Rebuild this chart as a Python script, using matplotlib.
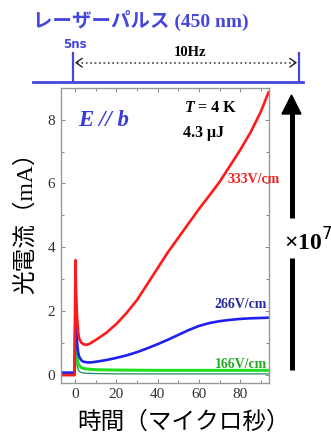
import matplotlib
matplotlib.use("Agg")
import matplotlib.pyplot as plt
from matplotlib.lines import Line2D
from matplotlib.patches import Polygon
from matplotlib.ticker import MultipleLocator

# --- data (time in microseconds, current in mA) ---
t_red = [-7, -0.2, 0.2, 0.5, 1, 1.5, 2, 3, 4, 5.5, 7, 10, 15, 20, 25, 30, 35, 40,
         45, 50, 55, 60, 65, 70, 75, 80, 85, 90, 93.7]
i_red = [0.0, 0.0, 3.6, 2.6, 1.8, 1.35, 1.15, 1.02, 0.97, 0.95, 0.98, 1.1, 1.32,
         1.6, 1.95, 2.35, 2.85, 3.35, 3.85, 4.3, 4.75, 5.2, 5.62, 6.05, 6.55,
         7.05, 7.6, 8.25, 8.85]

t_blue = [-7, -0.2, 0.2, 0.6, 1, 1.5, 2, 3, 4, 6, 8, 10, 15, 20, 25, 30, 35, 40,
          45, 50, 55, 60, 65, 70, 75, 80, 85, 90, 93.7]
i_blue = [0.08, 0.08, 2.0, 1.4, 1.0, 0.72, 0.58, 0.47, 0.42, 0.40, 0.40, 0.42,
          0.47, 0.54, 0.62, 0.72, 0.84, 0.97, 1.11, 1.26, 1.41, 1.54, 1.63, 1.69,
          1.73, 1.76, 1.78, 1.79, 1.80]

t_green = [-7, -0.2, 0.2, 0.6, 1, 1.5, 2, 3, 4, 6, 10, 20, 40, 60, 80, 93.7]
i_green = [0.05, 0.05, 2.0, 1.0, 0.55, 0.38, 0.30, 0.24, 0.21, 0.19, 0.17, 0.16,
           0.15, 0.15, 0.15, 0.15]

t_teal = [-7, -0.2, 0.2, 0.6, 1, 1.5, 2, 3, 5, 10, 20, 40, 60, 80, 93.7]
i_teal = [0.03, 0.03, 1.4, 0.6, 0.3, 0.18, 0.12, 0.08, 0.06, 0.05, 0.04, 0.04,
          0.04, 0.04, 0.04]

x_ticks = [0, 20, 40, 60, 80]
y_ticks = [0, 2, 4, 6, 8]

W, H = 331, 436
SERIF = ['Liberation Serif', 'Noto Sans CJK JP']
CJK = ['Noto Sans CJK JP', 'DejaVu Sans']


def fx(x):
    return x / W


def fy(y):
    return 1 - y / H


fig = plt.figure(figsize=(W / 100, H / 100), dpi=100)
ax = fig.add_axes([fx(61), fy(382.5), fx(268.5) - fx(61), fy(88.3) - fy(382.5)])

ax.plot(t_teal, i_teal, color='#1a8a6a', lw=0.9)
ax.plot(t_green, i_green, color='#22e022', lw=2.2)
ax.plot(t_blue, i_blue, color='#2020f0', lw=1.9)
ax.plot(t_red, i_red, color='#ff1a1a', lw=1.9)

ax.set_xlim(-6.8, 93.7)
ax.set_ylim(-0.23, 8.98)
ax.set_xticks(x_ticks)
ax.set_yticks(y_ticks)
ax.xaxis.set_minor_locator(MultipleLocator(10))
ax.yaxis.set_minor_locator(MultipleLocator(1))
ax.tick_params(which='both', direction='in', top=True, right=True,
               colors='#888888', labelcolor='#333333', width=0.7)
ax.tick_params(which='major', length=3, pad=4)
ax.tick_params(which='minor', length=2)
for lab in ax.get_xticklabels() + ax.get_yticklabels():
    lab.set_family(SERIF)
    lab.set_fontsize(11)
for s in ax.spines.values():
    s.set_color('#999999')
    s.set_linewidth(1.0)

# axis titles placed to match the reference
fig.text(fx(184), fy(422), '時間（マイクロ秒）', family=CJK, fontsize=17,
         ha='center', va='center')
fig.text(fx(26), fy(217), '光電流（mA）', family=SERIF, fontsize=17,
         rotation=90, ha='center', va='center')

# annotations inside the axes
fig.text(fx(78), fy(120), 'E // b', family=SERIF, fontsize=16.5, weight='bold',
         style='italic', color='#3a3ad8', va='center')
fig.text(fx(185), fy(108), 'T', family=SERIF, fontsize=11.5, weight='bold',
         style='italic', va='center')
fig.text(fx(194), fy(108), ' = 4 K', family=SERIF, fontsize=11.5, weight='bold',
         va='center')
fig.text(fx(183), fy(133), '4.3 μJ', family=SERIF, fontsize=11.5, weight='bold',
         va='center')
fig.text(fx(280), fy(179), '333V/cm', family=SERIF, fontsize=10, weight='bold',
         color='#ee2222', ha='right', va='center')
fig.text(fx(267), fy(304), '266V/cm', family=SERIF, fontsize=10, weight='bold',
         color='#2a2aa0', ha='right', va='center')
fig.text(fx(267), fy(364), '166V/cm', family=SERIF, fontsize=10, weight='bold',
         color='#22aa22', ha='right', va='center')

# laser pulse header
blue = '#4646dc'
fig.text(fx(33), fy(20), 'レーザーパルス (450 nm)', family=SERIF, fontsize=14,
         weight='bold', color=blue, va='center')
fig.add_artist(Line2D([fx(33), fx(303)], [fy(82), fy(82)], color=blue, lw=2.0,
                      transform=fig.transFigure))
for xp in (72.7, 299):
    fig.add_artist(Line2D([fx(xp), fx(xp)], [fy(53), fy(82)], color=blue, lw=1.6,
                          transform=fig.transFigure))
fig.text(fx(75), fy(45), '5ns', fontsize=8.5, weight='bold', color=blue,
         ha='center', va='center')
fig.text(fx(190), fy(52), '10Hz', family=SERIF, fontsize=10.5, weight='bold',
         ha='center', va='center')
fig.add_artist(Line2D([fx(77), fx(295)], [fy(62.7), fy(62.7)], color='#444444',
                      lw=1.2, ls=':', transform=fig.transFigure))
for x0, x1 in ((82, 76), (290, 296)):
    fig.add_artist(Line2D([fx(x0), fx(x1), fx(x0)], [fy(58.5), fy(62.7), fy(66.9)],
                          color='#222222', lw=1.0, transform=fig.transFigure))

# big scale arrow on the right
fig.add_artist(Polygon([[fx(282), fy(114)], [fx(301), fy(114)], [fx(291.5), fy(95)]],
                       closed=True, color='black', transform=fig.transFigure))
for y0, y1 in ((113, 218), (258, 370)):
    fig.add_artist(Line2D([fx(291.5), fx(291.5)], [fy(y0), fy(y1)], color='black',
                          lw=3.6, solid_capstyle='butt', transform=fig.transFigure))
fig.text(fx(284), fy(242), '×10$^7$', family=SERIF, fontsize=17, weight='bold',
         va='center')

fig.savefig('out.png', dpi=100)
